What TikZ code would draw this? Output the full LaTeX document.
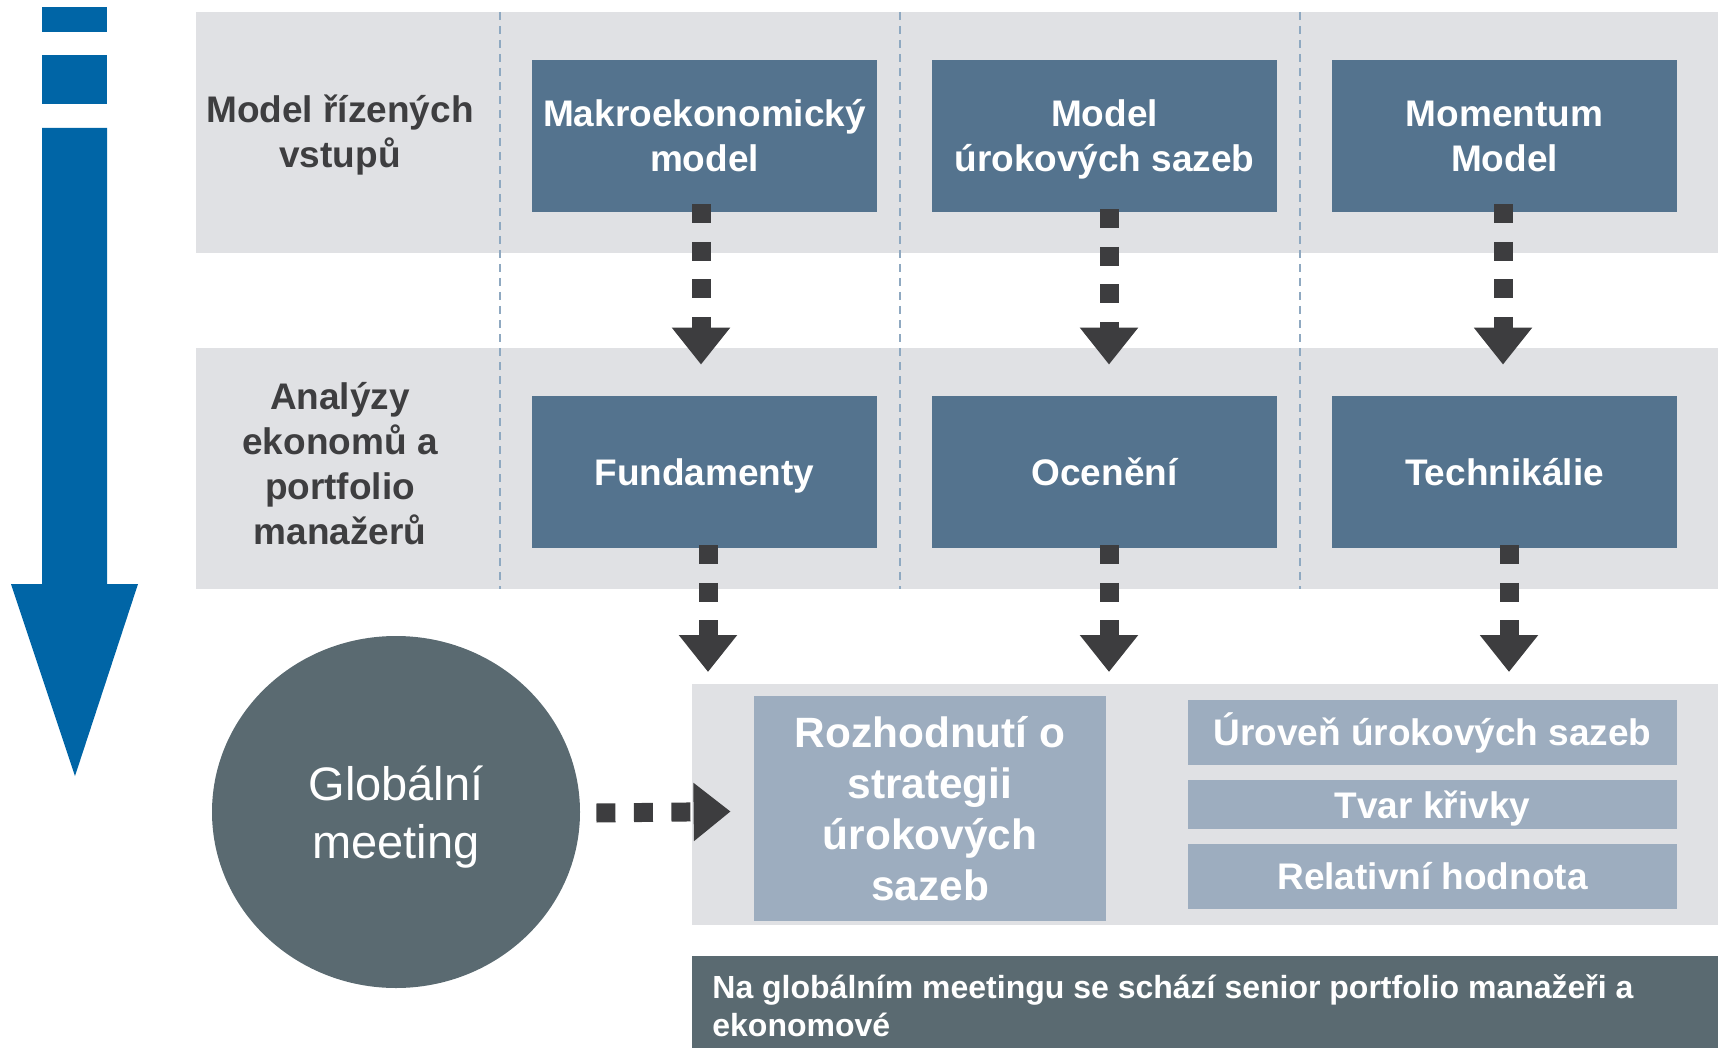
\documentclass[tikz,border=0pt]{standalone}
\usepackage{fontspec}
\setmainfont{Liberation Sans}
\usetikzlibrary{arrows.meta,shapes.geometric}
\definecolor{bandgray}{RGB}{224,225,228}
\definecolor{boxdark}{RGB}{84,115,142}
\definecolor{boxlight}{RGB}{157,173,191}
\definecolor{slate}{RGB}{90,106,113}
\definecolor{arrowgray}{RGB}{61,61,63}
\definecolor{labelgray}{RGB}{62,62,64}
\definecolor{sepblue}{RGB}{143,169,193}
\definecolor{bigblue}{RGB}{0,101,166}
\newcommand{\nodepth}[1]{\raisebox{0pt}[\height][0pt]{#1}}
\begin{document}
\begin{tikzpicture}[x=0.5pt,y=-0.5pt,
  band/.style={fill=bandgray},
  sep/.style={draw=sepblue, line width=0.9pt, dash pattern=on 4pt off 3pt},
  mbox/.style={fill=boxdark, text=white, font=\fontsize{18.5}{22.5}\selectfont\bfseries,
    minimum width=172.5pt, minimum height=76pt, inner sep=0pt, align=center},
  sbox/.style={fill=boxlight, text=white, font=\fontsize{18.5}{22.5}\selectfont\bfseries,
    minimum width=244.5pt, inner sep=0pt, align=center},
  lab/.style={text=labelgray, font=\fontsize{18.5}{22.5}\selectfont\bfseries, align=center, inner sep=0pt},
  flow/.style={draw=arrowgray, line width=9.5pt, dash pattern=on 9.5pt off 9.25pt,
    -{Triangle[width=28pt,length=18.5pt]}},
]
\useasboundingbox (0,0) rectangle (1718,1048);

% background bands
\fill[band] (196,12) rectangle (1718,253);
\fill[band] (196,348) rectangle (1718,589);
\fill[band] (692,684) rectangle (1718,925);

% separators
\foreach \xx in {500,900,1300} \draw[sep] (\xx,12) -- (\xx,589);

% big blue arrow
\fill[bigblue] (42,7) rectangle (107,32);
\fill[bigblue] (42,55) rectangle (107,104);
\fill[bigblue] (42,128) -- (107,128) -- (107,584) -- (138,584) -- (75,776) -- (11,584) -- (42,584) -- cycle;

% row labels
\node[lab] (l1) at (340,131) {Model řízených\\\nodepth{vstupů}};
\node[lab] (l2) at (340,464) {Analýzy\\ekonomů a\\portfolio\\manažerů};

% top row
\node[mbox] (m1) at (704.5,136) {Makroekonomický\\model};
\node[mbox] (m2) at (1104.5,136) {Model\\\nodepth{úrokových sazeb}};
\node[mbox] (m3) at (1504.5,136) {Momentum\\Model};

% second row
\node[mbox] (f1) at (704.5,472) {\nodepth{Fundamenty}};
\node[mbox] (f2) at (1104.5,472) {Ocenění};
\node[mbox] (f3) at (1504.5,472) {Technikálie};

% third row
\node[fill=boxlight, text=white, font=\fontsize{21.2}{25.5}\selectfont\bfseries,
  minimum width=176pt, minimum height=112.5pt, inner sep=0pt, align=center]
  (rs) at (930,808.5) {Rozhodnutí o\\strategii\\úrokových\\sazeb};
\node[sbox, minimum height=32.5pt] (u1) at (1432.5,732.5) {Úroveň úrokových sazeb};
\node[sbox, minimum height=24.5pt] (u2) at (1432.5,804.5) {\nodepth{Tvar křivky}};
\node[sbox, minimum height=32.5pt] (u3) at (1432.5,876.5) {Relativní hodnota};

% global meeting
\node[ellipse, fill=slate, text=white, font=\fontsize{23.5}{29}\selectfont,
  minimum width=184pt, minimum height=176pt, inner sep=0pt, align=center]
  (gm) at (396,812) {Globální\\\nodepth{meeting}};

% bottom note
\fill[slate] (692,956) rectangle (1718,1048);
\node[text=white, font=\fontsize{16}{19.2}\selectfont\bfseries, anchor=west, align=left, inner sep=0pt]
  (note) at (712,1006) {Na globálním meetingu se schází senior portfolio manažeři a\\ekonomové};

% arrow targets
\coordinate (t1) at (708,672);
\coordinate (t2) at (1109,672);
\coordinate (t3) at (1509,672);

% connectors
\draw[flow] ([xshift=-1.75pt,yshift=4pt]m1.south) -- ([xshift=-1.75pt,yshift=15.5pt]f1.north);
\draw[flow] ([xshift=2.25pt,yshift=1.5pt]m2.south) -- ([xshift=2.25pt,yshift=15.5pt]f2.north);
\draw[flow] ([xshift=-0.75pt,yshift=4pt]m3.south) -- ([xshift=-0.75pt,yshift=15.5pt]f3.north);
\draw[flow] ([xshift=1.75pt,yshift=1.5pt]f1.south) -- (t1);
\draw[flow] ([xshift=2.25pt,yshift=1.5pt]f2.south) -- (t2);
\draw[flow] ([xshift=2.25pt,yshift=1.5pt]f3.south) -- (t3);
\draw[flow] ([xshift=8pt,yshift=-0.5pt]gm.east) -- ([xshift=-11.5pt,yshift=-1.5pt]rs.west);
\end{tikzpicture}
\end{document}
